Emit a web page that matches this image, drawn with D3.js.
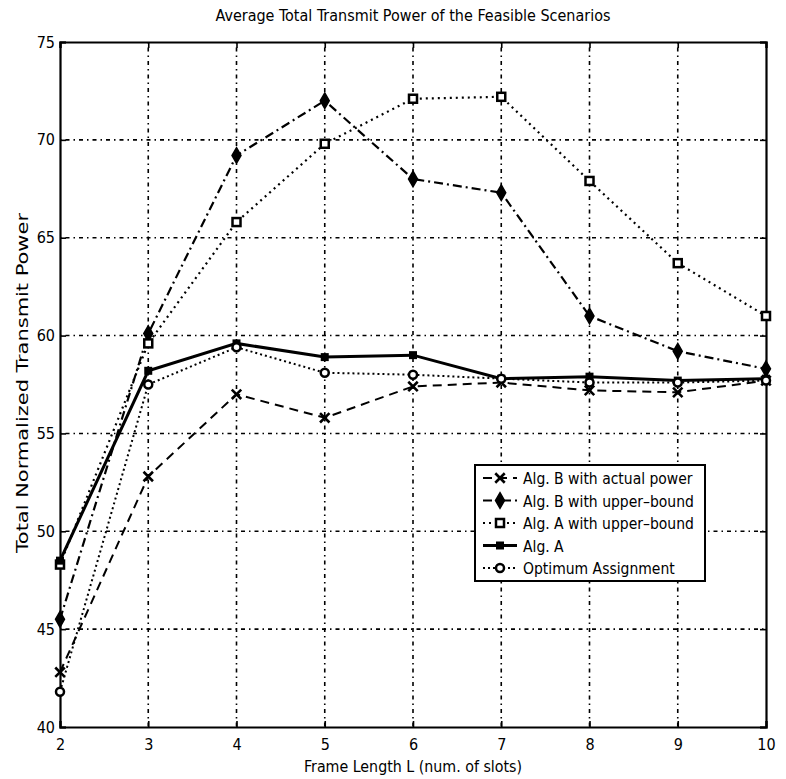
<!DOCTYPE html>
<html>
<head>
<meta charset="utf-8">
<script src="https://cdn.jsdelivr.net/npm/d3@7"></script>
<style>
  body { margin: 0; background: #fff; }
  text { font-family: "DejaVu Sans Condensed", "Liberation Sans Narrow", "Liberation Sans", Arial, sans-serif; font-stretch: condensed; fill: #000; }
</style>
</head>
<body>
<div id="chart"></div>
<script>
// frame lengths
const frameLen = [2, 3, 4, 5, 6, 7, 8, 9, 10];

const algBActual = [42.8, 52.8, 57.0, 55.8, 57.4, 57.6, 57.2, 57.1, 57.7];
const algBUpper  = [45.5, 60.1, 69.2, 72.0, 68.0, 67.3, 61.0, 59.2, 58.3];
const algAUpper  = [48.3, 59.6, 65.8, 69.8, 72.1, 72.2, 67.9, 63.7, 61.0];
const algA       = [48.5, 58.2, 59.6, 58.9, 59.0, 57.8, 57.9, 57.7, 57.8];
const optimum    = [41.8, 57.5, 59.4, 58.1, 58.0, 57.8, 57.6, 57.6, 57.7];

const seriesNames = ["Alg. B with actual power", "Alg. B with upper\u2013bound",
  "Alg. A with upper\u2013bound", "Alg. A", "Optimum Assignment"];
const yTicks = [40, 45, 50, 55, 60, 65, 70, 75];

const W = 786, H = 779;
const margin = {top: 42, right: 20, bottom: 52, left: 60};
const iw = W - margin.left - margin.right;
const ih = H - margin.top - margin.bottom;

const svg = d3.select("#chart").append("svg")
  .attr("width", W).attr("height", H);

const g = svg.append("g")
  .attr("transform", "translate(" + margin.left + "," + margin.top + ")");

const x = d3.scaleLinear().domain([2, 10]).range([0, iw]);
const y = d3.scaleLinear().domain([40, 75]).range([ih, 0]);

// grid
g.append("g").selectAll("line.gx")
  .data(frameLen.slice(1, -1)).enter().append("line")
  .attr("x1", d => x(d)).attr("x2", d => x(d))
  .attr("y1", 0).attr("y2", ih)
  .attr("stroke", "#000").attr("stroke-width", 1.6)
  .attr("stroke-dasharray", "1.5,4,4,4");

g.append("g").selectAll("line.gy")
  .data(yTicks.slice(1, -1)).enter().append("line")
  .attr("x1", 0).attr("x2", iw)
  .attr("y1", d => y(d)).attr("y2", d => y(d))
  .attr("stroke", "#000").attr("stroke-width", 1.6)
  .attr("stroke-dasharray", "1.5,4,4,4");

// axes
const xAxis = g.append("g").attr("transform", "translate(0," + ih + ")")
  .call(d3.axisBottom(x).tickValues(frameLen).tickSize(-6).tickPadding(12).tickFormat(d3.format("d")));
const xTop = g.append("g")
  .call(d3.axisTop(x).tickValues(frameLen).tickSize(-6).tickFormat(""));
const yAxis = g.append("g")
  .call(d3.axisLeft(y).tickValues(yTicks).tickSize(-6).tickPadding(5));
const yRight = g.append("g").attr("transform", "translate(" + iw + ",0)")
  .call(d3.axisRight(y).tickValues(yTicks).tickSize(-6).tickFormat(""));

[xAxis, xTop, yAxis, yRight].forEach(a => {
  a.select(".domain").attr("stroke-width", 2.2);
  a.selectAll(".tick line").attr("stroke-width", 1.6);
  a.selectAll("text").style("font-size", "16px");
});

// series
const series = [
  {name: seriesNames[0], vals: algBActual, dash: "9,6", width: 2, marker: "x"},
  {name: seriesNames[1], vals: algBUpper, dash: "9,4,2,4", width: 2.2, marker: "diamond"},
  {name: seriesNames[2], vals: algAUpper, dash: "2,4", width: 2.2, marker: "square"},
  {name: seriesNames[3], vals: algA, dash: null, width: 3, marker: "fsquare"},
  {name: seriesNames[4], vals: optimum, dash: "2,3", width: 2, marker: "circle"}
];

const line = d3.line().x((d, i) => x(frameLen[i])).y(d => y(d));

function drawMarker(sel, type, cx, cy) {
  if (type === "x") {
    sel.append("path")
      .attr("d", d3.symbol(d3.symbolX, 60)())
      .attr("transform", "translate(" + cx + "," + cy + ")")
      .attr("fill", "none").attr("stroke", "#000").attr("stroke-width", 2.6);
  } else if (type === "diamond") {
    sel.append("path")
      .attr("d", d3.symbol(d3.symbolDiamond, 70)())
      .attr("transform", "translate(" + cx + "," + cy + ")")
      .attr("fill", "#000").attr("stroke", "#000").attr("stroke-width", 1.5);
  } else if (type === "square") {
    sel.append("rect")
      .attr("x", cx - 4).attr("y", cy - 4).attr("width", 8).attr("height", 8)
      .attr("fill", "#fff").attr("stroke", "#000").attr("stroke-width", 2.5);
  } else if (type === "fsquare") {
    sel.append("rect")
      .attr("x", cx - 4).attr("y", cy - 4).attr("width", 8).attr("height", 8)
      .attr("fill", "#000");
  } else if (type === "circle") {
    sel.append("circle")
      .attr("cx", cx).attr("cy", cy).attr("r", 4)
      .attr("fill", "#fff").attr("stroke", "#000").attr("stroke-width", 2.5);
  }
}

series.forEach(s => {
  g.append("path").datum(s.vals)
    .attr("d", line)
    .attr("fill", "none").attr("stroke", "#000")
    .attr("stroke-width", s.width)
    .attr("stroke-dasharray", s.dash);
  const mg = g.append("g");
  s.vals.forEach((v, i) => drawMarker(mg, s.marker, x(frameLen[i]), y(v)));
});

// legend
const lg = svg.append("g").attr("transform", "translate(475,465)");
lg.append("rect").attr("x", 0).attr("y", 0).attr("width", 230).attr("height", 116)
  .attr("fill", "#fff").attr("stroke", "#000").attr("stroke-width", 2);
series.forEach((s, i) => {
  const ly = 13 + i * 22.5;
  lg.append("line").attr("x1", 8).attr("x2", 42).attr("y1", ly).attr("y2", ly)
    .attr("stroke", "#000").attr("stroke-width", s.width)
    .attr("stroke-dasharray", s.dash);
  drawMarker(lg, s.marker, 25, ly);
  lg.append("text").attr("x", 48).attr("y", ly + 6)
    .style("font-size", "15.5px").style("font-weight", "500").text(s.name);
});

// titles
svg.append("text").attr("x", 413).attr("y", 21).attr("text-anchor", "middle")
  .attr("textLength", 395).attr("lengthAdjust", "spacingAndGlyphs")
  .style("font-size", "15px").text("Average Total Transmit Power of the Feasible Scenarios");
svg.append("text").attr("x", 413).attr("y", 772).attr("text-anchor", "middle")
  .attr("textLength", 218).attr("lengthAdjust", "spacingAndGlyphs")
  .style("font-size", "16px").text("Frame Length L (num. of slots)");
svg.append("text").attr("transform", "translate(28,383) rotate(-90)")
  .attr("text-anchor", "middle")
  .attr("textLength", 340).attr("lengthAdjust", "spacingAndGlyphs")
  .style("font-size", "15.5px").text("Total Normalized Transmit Power");
</script>
</body>
</html>
